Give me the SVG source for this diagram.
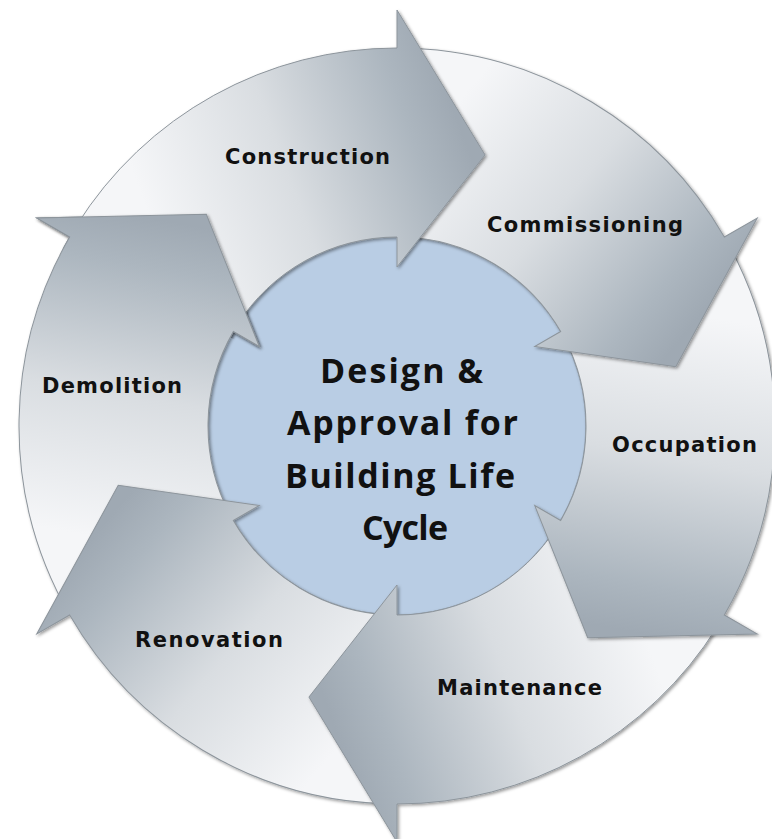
<svg xmlns="http://www.w3.org/2000/svg" xmlns:xlink="http://www.w3.org/1999/xlink" width="772" height="839" viewBox="0 0 772 839">
  <style>
    .lbl { font-family: "DejaVu Sans", Verdana, sans-serif; font-weight: 700; font-size: 21px; fill: #111; text-anchor: middle; }
    .ctr { font-family: "Open Sans", "Noto Sans", sans-serif; font-weight: 700; font-size: 34px; fill: #111; text-anchor: middle; }
  </style>
  <defs>
    <linearGradient id="ag" gradientUnits="userSpaceOnUse" x1="166" y1="264" x2="470" y2="154">
      <stop offset="0" stop-color="#f5f6f8"/>
      <stop offset="0.45" stop-color="#d9dde1"/>
      <stop offset="0.85" stop-color="#acb6bf"/>
      <stop offset="1" stop-color="#9fa9b3"/>
    </linearGradient>
    <filter id="sh" x="-20%" y="-20%" width="140%" height="140%">
      <feDropShadow dx="1.5" dy="1.5" stdDeviation="1.6" flood-color="#000" flood-opacity="0.4"/>
    </filter>
    <clipPath id="wedge">
      <polygon points="397,426 -44.5,191.3 37.3,78.7 147,-7"/>
    </clipPath>
    <path id="arrow" d="M 76.44 225.69 A 378 378 0 0 1 397 48 L 397 10 L 485.07 154.95 L 397 267 L 397 237 A 189 189 0 0 0 236.72 325.85 Z" fill="url(#ag)" stroke="#8d959c" stroke-width="1"/>
  </defs>

  <g id="center">
    <circle cx="397" cy="426" r="189" fill="#b9cde4" stroke="#95a3b3" stroke-width="1.2" filter="url(#sh)"/>
    <text class="ctr" x="401.5" y="383" textLength="163" lengthAdjust="spacing">Design &amp;</text>
    <text class="ctr" x="402.5" y="435" textLength="231" lengthAdjust="spacing">Approval for</text>
    <text class="ctr" x="400" y="488" textLength="230" lengthAdjust="spacing">Building Life</text>
    <text class="ctr" x="405" y="540" textLength="86" lengthAdjust="spacing">Cycle</text>
  </g>

  <g id="connectors"/>

  <g id="n-demolition">
    <g filter="url(#sh)"><use href="#arrow" xlink:href="#arrow" transform="rotate(300 397 426)"/></g>
  </g>
  <g id="n-renovation">
    <g filter="url(#sh)"><use href="#arrow" xlink:href="#arrow" transform="rotate(240 397 426)"/></g>
  </g>
  <g id="n-maintenance">
    <g filter="url(#sh)"><use href="#arrow" xlink:href="#arrow" transform="rotate(180 397 426)"/></g>
  </g>
  <g id="n-occupation">
    <g filter="url(#sh)"><use href="#arrow" xlink:href="#arrow" transform="rotate(120 397 426)"/></g>
  </g>
  <g id="n-commissioning">
    <g filter="url(#sh)"><use href="#arrow" xlink:href="#arrow" transform="rotate(60 397 426)"/></g>
  </g>
  <g id="n-construction">
    <g filter="url(#sh)"><use href="#arrow" xlink:href="#arrow"/></g>
  </g>
  <g id="n-demolition-head" clip-path="url(#wedge)">
    <g filter="url(#sh)"><use href="#arrow" xlink:href="#arrow" transform="rotate(300 397 426)"/></g>
  </g>

  <g id="labels">
    <text class="lbl" x="307.5" y="164" textLength="165" lengthAdjust="spacing">Construction</text>
    <text class="lbl" x="585" y="232" textLength="196" lengthAdjust="spacing">Commissioning</text>
    <text class="lbl" x="684.5" y="452" textLength="145" lengthAdjust="spacing">Occupation</text>
    <text class="lbl" x="519.5" y="695" textLength="165" lengthAdjust="spacing">Maintenance</text>
    <text class="lbl" x="209" y="647" textLength="148" lengthAdjust="spacing">Renovation</text>
    <text class="lbl" x="112" y="393" textLength="140" lengthAdjust="spacing">Demolition</text>
  </g>
</svg>
